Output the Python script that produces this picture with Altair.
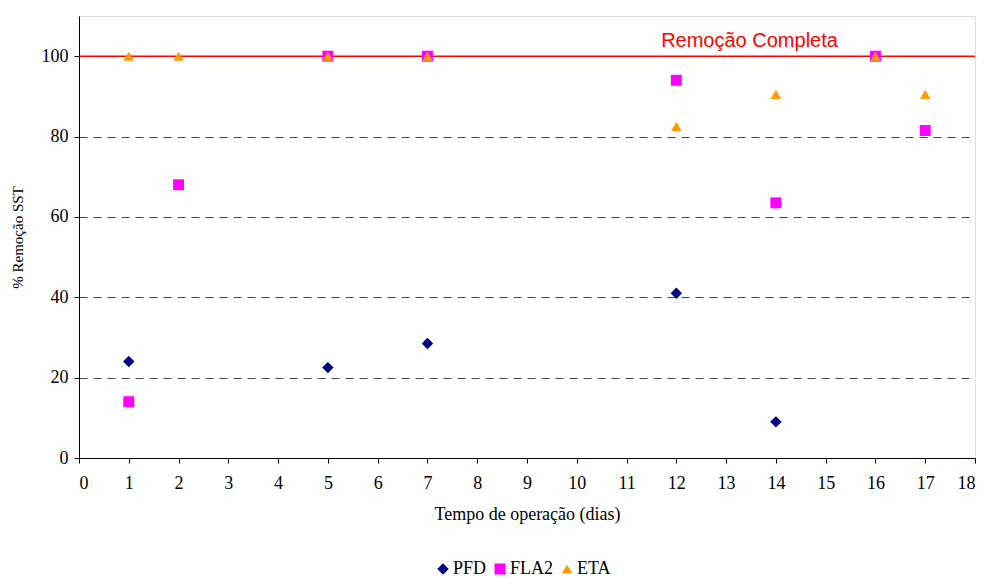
import altair as alt
import pandas as pd

series_names = ["PFD", "FLA2", "ETA"]
pfd_x = [1, 5, 7, 12, 14]
pfd_y = [24, 22.5, 28.5, 41, 9]
fla2_x = [1, 2, 5, 7, 12, 14, 16, 17]
fla2_y = [14, 68, 100, 100, 94, 63.5, 100, 81.5]
eta_x = [1, 2, 5, 7, 12, 14, 16, 17]
eta_y = [100, 100, 100, 100, 82.5, 90.5, 100, 90.5]

ref_value = 100
ref_label = "Remoção Completa"
ref_label_x = 13.47
ref_label_y = 102.4

rows = []
for name, xs, ys in [("PFD", pfd_x, pfd_y), ("FLA2", fla2_x, fla2_y), ("ETA", eta_x, eta_y)]:
    for a, b in zip(xs, ys):
        rows.append({"dia": a, "rem": b, "serie": name, "ord": len(rows)})
df = pd.DataFrame(rows)

xscale = alt.Scale(domain=[0, 18], nice=False, zero=False)
yscale = alt.Scale(domain=[0, 110], nice=False)

points = alt.Chart(df).mark_point(filled=True, opacity=1, strokeWidth=0).encode(
    x=alt.X("dia:Q", scale=xscale,
            axis=alt.Axis(title="Tempo de operação (dias)", values=list(range(0, 19)),
                          grid=False, tickSize=5, tickColor="black", domainColor="black",
                          labelFont="Liberation Serif", labelFontSize=18, labelColor="black",
                          titleFont="Liberation Serif", titleFontSize=18, titleFontWeight="normal",
                          titleColor="black", titlePadding=13, labelPadding=11)),
    y=alt.Y("rem:Q", scale=yscale,
            axis=alt.Axis(title="% Remoção SST", values=[0, 20, 40, 60, 80, 100],
                          grid=True, gridDash=[8, 6], gridColor="#444444", gridWidth=1,
                          tickSize=5, tickColor="black", domainColor="black",
                          labelFont="Liberation Serif", labelFontSize=18, labelColor="black",
                          titleFont="Liberation Serif", titleFontSize=15, titleFontWeight="normal",
                          titleColor="black", titlePadding=16, labelPadding=6)),
    color=alt.Color("serie:N", scale=alt.Scale(domain=series_names,
                                               range=["#000080", "#FF00FF", "#FF9900"]),
                    legend=alt.Legend(title=None, orient="none", direction="horizontal",
                                      legendX=355, legendY=544,
                                      labelFont="Liberation Serif", labelFontSize=18,
                                      labelColor="black", symbolSize=120, columnPadding=4,
                                      labelOffset=1)),
    shape=alt.Shape("serie:N", scale=alt.Scale(domain=series_names,
                                               range=["diamond", "square", "triangle-up"]),
                    legend=None),
    size=alt.Size("serie:N", scale=alt.Scale(domain=series_names, range=[130, 110, 180]),
                  legend=None),
    order=alt.Order("ord:Q"),
)

rule = alt.Chart(pd.DataFrame({"v": [ref_value]})).mark_rule(color="#FF0000", strokeWidth=1.5).encode(
    y=alt.Y("v:Q", scale=yscale)
)

label = alt.Chart(pd.DataFrame({"x": [ref_label_x], "y": [ref_label_y], "t": [ref_label]})).mark_text(
    color="#FF0000", font="Liberation Sans", fontSize=20, align="center", baseline="alphabetic"
).encode(
    x=alt.X("x:Q", scale=xscale),
    y=alt.Y("y:Q", scale=yscale),
    text="t:N",
)

chart = alt.layer(rule, points, label).properties(
    width=896, height=442,
    padding={"left": 71, "top": 8, "right": 3, "bottom": 121},
    autosize=alt.AutoSizeParams(type="none"),
).configure_view(stroke="black", strokeWidth=1.2).configure(background="white")

chart.save("out.html", embed_options={"renderer": "svg", "actions": False})
